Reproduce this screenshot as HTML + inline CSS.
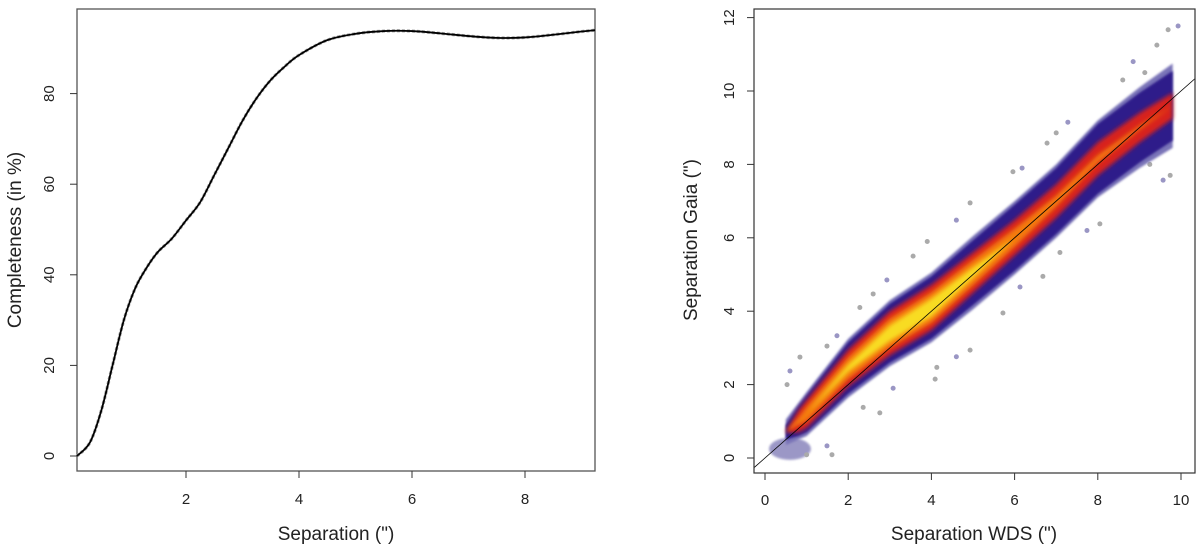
<!DOCTYPE html>
<html><head><meta charset="utf-8">
<style>
html,body{margin:0;padding:0;background:#fff;}
svg{display:block;font-family:"Liberation Sans",Arial,sans-serif;}
</style></head>
<body>
<svg id="chart" width="1200" height="546" viewBox="0 0 1200 546">
<defs>
<filter id="blur2" x="-10%" y="-10%" width="120%" height="120%"><feGaussianBlur stdDeviation="2"/></filter>
<filter id="blur1" x="-10%" y="-10%" width="120%" height="120%"><feGaussianBlur stdDeviation="1"/></filter>
<clipPath id="clipR"><rect x="754" y="9" width="441" height="464"/></clipPath>
</defs>
<g id="left"></g>
<g id="right"></g>
</svg>
<script>
// ---- Left chart data ----
const sepX = [0.07,0.3,0.5,0.7,0.9,1.1,1.3,1.5,1.75,2.0,2.25,2.5,2.75,3.0,3.25,3.5,3.75,4.0,4.5,5.0,5.5,6.0,6.5,7.0,7.5,8.0,8.5,9.0,9.24];
const completeness = [0,3,10,20,30,37,41.5,45,48,52,56,62,68,74,79,83,86,88.5,91.8,93.2,93.8,93.8,93.3,92.7,92.3,92.4,93,93.7,94];
const leftXTicks = [2,4,6,8];
const leftYTicks = [0,20,40,60,80];

// ---- Right chart data ----
const bandX = [0.5,0.8,1.0,2.0,3.0,4.0,5.0,6.0,7.0,8.0,9.0,9.8];
const bandCenter = [0.7,1.0,1.2,2.45,3.4,4.1,5.05,6.0,7.0,8.15,9.0,9.6];
const outerHalf = [0.35,0.5,0.6,0.8,0.9,0.95,1.0,1.0,1.0,1.05,1.1,1.15];
const purpleHalf = [0.2,0.4,0.5,0.7,0.8,0.85,0.88,0.9,0.9,0.95,0.95,0.95];
const redHalf = [0,0.3,0.38,0.5,0.6,0.62,0.55,0.48,0.45,0.45,0.4,0.35];
const orangeHalf = [0,0.1,0.2,0.3,0.4,0.42,0.35,0.25,0.15,0.1,0.05,0];
const yellowHalf = [0,0,0,0.1,0.22,0.25,0.15,0,0,0,0,0];
const outlierX = [9.93,9.69,9.42,8.85,9.13,8.6,7.28,7.0,6.78,6.18,5.96,4.93,4.6,3.9,3.56,2.93,2.6,2.28,1.73,1.49,0.84,0.6,0.53,9.74,9.57,9.25,8.05,7.74,7.09,6.68,6.13,5.72,4.93,4.6,4.13,4.09,3.08,2.76,2.36,1.49,1.61,1.0];
const outlierY = [11.77,11.67,11.25,10.8,10.5,10.3,9.15,8.86,8.58,7.9,7.8,6.95,6.48,5.9,5.5,4.85,4.47,4.1,3.33,3.05,2.75,2.37,2.0,7.7,7.57,8.0,6.38,6.2,5.6,4.95,4.66,3.95,2.94,2.76,2.47,2.15,1.9,1.23,1.38,0.33,0.09,0.09];
const rightXTicks = [0,2,4,6,8,10];
const rightYTicks = [0,2,4,6,8,10,12];

const NS = "http://www.w3.org/2000/svg";
function mk(parent, tag, attrs){ const e=document.createElementNS(NS,tag); for(const k in attrs) e.setAttribute(k,attrs[k]); parent.appendChild(e); return e; }

// ---------- LEFT ----------
const L = document.getElementById('left');
const lx = v => 73 + v*56.5;
const ly = v => 456 - v*4.53;
let frame = mk(L,'rect',{x:77,y:9,width:518,height:462,fill:'none',stroke:'#555','stroke-width':1.3});


leftXTicks.forEach(t=>{
  let ln=mk(L,'line',{x1:lx(t),x2:lx(t),y1:471,y2:478,stroke:'#333','stroke-width':1});
  
  
  let tx=mk(L,'text',{x:lx(t),y:504,'font-size':15,'text-anchor':'middle',fill:'#222'}); tx.textContent=t;
  
  
});
leftYTicks.forEach(t=>{
  let ln=mk(L,'line',{x1:70,x2:77,y1:ly(t),y2:ly(t),stroke:'#333','stroke-width':1});
  
  
  let tx=mk(L,'text',{x:0,y:0,'font-size':15,'text-anchor':'middle',fill:'#222',transform:`translate(54,${ly(t)}) rotate(-90)`}); tx.textContent=t;
  
  
});
let lxt=mk(L,'text',{x:336,y:540,'font-size':19,'text-anchor':'middle',fill:'#222'}); lxt.textContent='Separation (")';


let lyt=mk(L,'text',{x:0,y:0,'font-size':19,'text-anchor':'middle',fill:'#222',transform:'translate(21,240) rotate(-90)'}); lyt.textContent='Completeness (in %)';


function smoothPath(px,py){
  let d=`M${px[0]},${py[0]}`;
  for(let i=0;i<px.length-1;i++){
    const p0=i>0?i-1:i, p3=i+2<px.length?i+2:i+1;
    const c1x=px[i]+(px[i+1]-px[p0])/6, c1y=py[i]+(py[i+1]-py[p0])/6;
    const c2x=px[i+1]-(px[p3]-px[i])/6, c2y=py[i+1]-(py[p3]-py[i])/6;
    d+=` C${c1x},${c1y} ${c2x},${c2y} ${px[i+1]},${py[i+1]}`;
  }
  return d;
}
const cpx=sepX.map(lx), cpy=completeness.map(ly);
let band=mk(L,'path',{d:smoothPath(cpx,cpy),fill:'none',stroke:'#aaa','stroke-width':3.2,'stroke-dasharray':'3 2'});


let curve=mk(L,'path',{d:smoothPath(cpx,cpy),fill:'none',stroke:'#000','stroke-width':1.8});



// ---------- RIGHT ----------
const R = document.getElementById('right');
const rx = v => 765 + v*41.6;
const ry = v => 458 - v*36.7;
const inner = mk(R,'g',{'clip-path':'url(#clipR)'});


let blob=mk(inner,'ellipse',{cx:rx(0.6),cy:ry(0.25),rx:21,ry:11,fill:'#8a86bd',opacity:0.85,filter:'url(#blur1)'});


outlierX.forEach((x,i)=>{
  let c=mk(inner,'circle',{cx:rx(x),cy:ry(outlierY[i]),r:2.5,fill:i%3===0?'#9a96c4':'#aaa'});
  
  
});
function bandPoly(half, name, color, filt){
  const top=[], bot=[];
  bandX.forEach((x,i)=>{
    const c=bandCenter[i];
    top.push(`${rx(x)},${ry(c+half[i])}`);
    bot.unshift(`${rx(x)},${ry(c-half[i])}`);
  });
  let p=mk(inner,'polygon',{points:top.concat(bot).join(' '),fill:color,filter:filt});
  
  
}
bandPoly(outerHalf,'density-outer','#7a74b8','url(#blur1)');
bandPoly(purpleHalf,'density-low','#2e1a8a','url(#blur1)');
bandPoly(redHalf,'density-mid','#d8201a','url(#blur2)');
bandPoly(orangeHalf,'density-high','#f47a10','url(#blur2)');
bandPoly(yellowHalf,'density-peak','#f8dc20','url(#blur2)');
let oneline=mk(inner,'line',{x1:rx(-1),y1:ry(-1),x2:rx(12),y2:ry(12),stroke:'#000','stroke-width':0.8});


let rframe=mk(R,'rect',{x:754,y:9,width:441,height:464,fill:'none',stroke:'#333','stroke-width':1.2});


rightXTicks.forEach(t=>{
  let ln=mk(R,'line',{x1:rx(t),x2:rx(t),y1:473,y2:480,stroke:'#333','stroke-width':1});
  
  
  let tx=mk(R,'text',{x:rx(t),y:505,'font-size':15,'text-anchor':'middle',fill:'#222'}); tx.textContent=t;
  
  
});
rightYTicks.forEach(t=>{
  let ln=mk(R,'line',{x1:747,x2:754,y1:ry(t),y2:ry(t),stroke:'#333','stroke-width':1});
  
  
  let tx=mk(R,'text',{x:0,y:0,'font-size':15,'text-anchor':'middle',fill:'#222',transform:`translate(734,${ry(t)}) rotate(-90)`}); tx.textContent=t;
  
  
});
let rxt=mk(R,'text',{x:974,y:540,'font-size':19,'text-anchor':'middle',fill:'#222'}); rxt.textContent='Separation WDS (")';


let ryt=mk(R,'text',{x:0,y:0,'font-size':19,'text-anchor':'middle',fill:'#222',transform:'translate(697,240) rotate(-90)'}); ryt.textContent='Separation Gaia (")';


</script>
</body></html>
